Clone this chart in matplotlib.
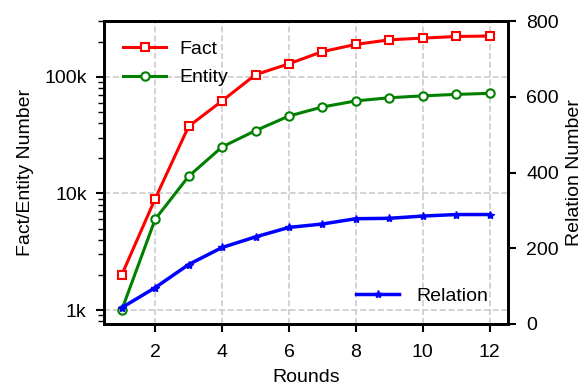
import matplotlib
matplotlib.use("Agg")
import matplotlib.pyplot as plt
from matplotlib.ticker import FixedLocator, FixedFormatter, NullFormatter

plt.rcParams['font.family'] = ['Liberation Sans', 'DejaVu Sans']

rounds = [1, 2, 3, 4, 5, 6, 7, 8, 9, 10, 11, 12]
fact = [2000, 9000, 37500, 62000, 104000, 129000, 164000, 189000, 207000, 214000, 221000, 223000]
entity = [1000, 6000, 14000, 25000, 34500, 46000, 55000, 62000, 66000, 68500, 70500, 72000]
relation = [43, 96, 157, 202, 230, 255, 264, 278, 279, 285, 289, 289]

left_ticks = [1000, 10000, 100000]
left_labels = ['1k', '10k', '100k']
right_ticks = [0, 200, 400, 600, 800]
x_ticks = [2, 4, 6, 8, 10, 12]

FS = 14

fig = plt.figure(figsize=(5.85, 3.87), dpi=100)
ax = fig.add_axes([104/585, 1-324/387, (508-104)/585, (324-21)/387])

l1, = ax.plot(rounds, fact, color='red', lw=2.2, marker='s', ms=6, mfc='white', mew=1.5, label='Fact')
l2, = ax.plot(rounds, entity, color='green', lw=2.2, marker='o', ms=6, mfc='white', mew=1.5, label='Entity')
ax.set_yscale('log')
ax.set_ylim(760, 3.0e5)
ax.set_xlim(0.47, 12.55)
ax.yaxis.set_major_locator(FixedLocator(left_ticks))
ax.yaxis.set_major_formatter(FixedFormatter(left_labels))
ax.yaxis.set_minor_formatter(NullFormatter())
ax.set_xticks(x_ticks)
ax.grid(True, which='major', ls='--', color='#cccccc', lw=1.2)
ax.set_axisbelow(True)
ax.set_xlabel('Rounds', fontsize=FS, labelpad=6)
ax.set_ylabel('Fact/Entity Number', fontsize=FS, labelpad=7)
ax.tick_params(axis='both', which='major', labelsize=FS, direction='out', length=6, width=1.5)
ax.tick_params(axis='x', which='major', pad=8.5)
ax.tick_params(axis='y', which='major', pad=6.5)
ax.tick_params(axis='y', which='minor', length=4, width=1)
for s in ax.spines.values():
    s.set_linewidth(2)

ax2 = ax.twinx()
l3, = ax2.plot(rounds, relation, color='blue', lw=2.5, marker='*', ms=6, label='Relation')
ax2.set_ylim(0, 800)
ax2.set_yticks(right_ticks)
ax2.set_ylabel('Relation Number', fontsize=FS, labelpad=5)
ax2.tick_params(axis='y', labelsize=FS, direction='out', length=6, width=1.5, pad=7)
for s in ax2.spines.values():
    s.set_linewidth(2)

ax.legend(handles=[l1, l2], loc='upper left', frameon=False, fontsize=FS, handlelength=2.2,
          borderaxespad=0.6, labelspacing=0.55, handletextpad=0.7)
ax2.legend(handles=[l3], loc='lower right', frameon=False, fontsize=FS, handlelength=2.2,
           borderaxespad=0.6, handletextpad=0.9)

fig.savefig('out.png', dpi=100)
